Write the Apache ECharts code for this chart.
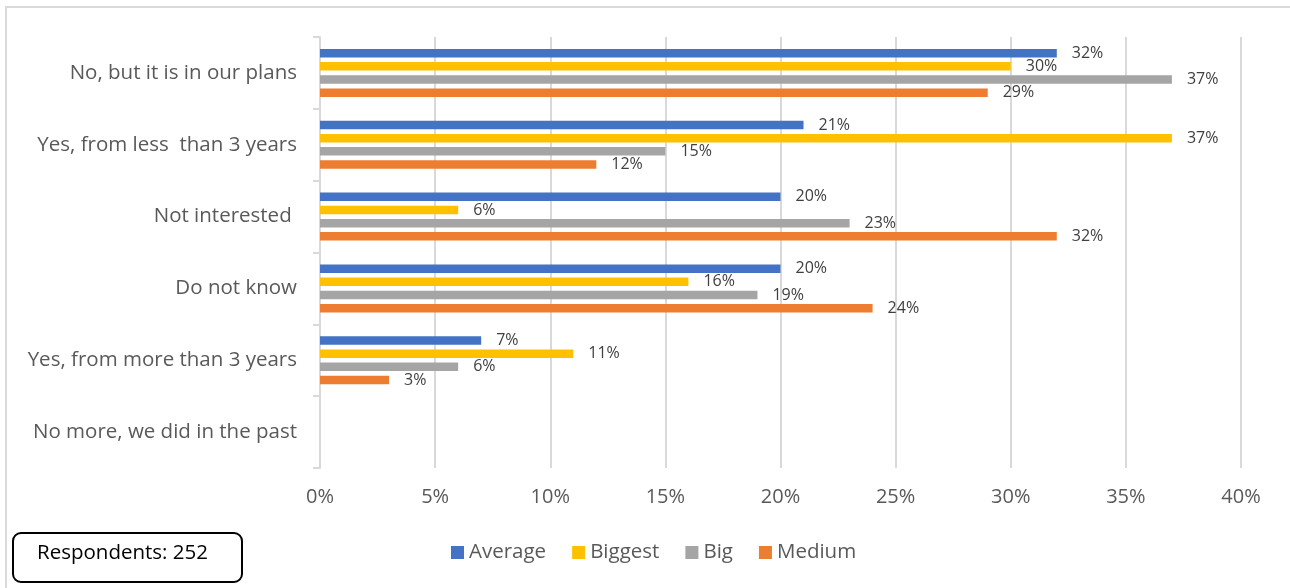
<!DOCTYPE html>
<html>
<head>
<meta charset="UTF-8">
<title>Respondents chart</title>
<script src="https://cdn.jsdelivr.net/npm/echarts@6/dist/echarts.min.js"></script>
<style>
  html, body { margin: 0; padding: 0; background: #fff; }
  #container { width: 1290px; height: 588px; }
</style>
</head>
<body>
<div id="container"></div>
<script>
// categories, top to bottom
var categories = ['No, but it is in our plans', 'Yes, from less  than 3 years', 'Not interested ', 'Do not know', 'Yes, from more than 3 years', 'No more, we did in the past'];
var seriesNames = ['Average', 'Biggest', 'Big', 'Medium'];
var average = [32, 21, 20, 20, 7, null];
var biggest = [30, 37, 6, 16, 11, null];
var big = [37, 15, 23, 19, 6, null];
var medium = [29, 12, 32, 24, 3, null];
var xTicks = [0, 5, 10, 15, 20, 25, 30, 35, 40];
var colors = ['#4472C4', '#FFC000', '#A5A5A5', '#ED7D31'];

var font = '"Open Sans", "Noto Sans", sans-serif';
var dom = document.getElementById('container');
var myChart = echarts.init(dom);

function makeSeries(name, data, i) {
    return {
        name: name,
        type: 'bar',
        data: data,
        barWidth: 8.5,
        barGap: '55%',
        itemStyle: { color: colors[i] },
        label: {
            show: true,
            position: 'right',
            distance: 15,
            formatter: function (p) { return p.value == null ? '' : p.value + '%'; },
            color: '#404040',
            fontSize: 16,
            fontFamily: font
        },
        emphasis: { disabled: true }
    };
}

var option = {
    animation: false,
    color: colors,
    textStyle: { fontFamily: font },
    grid: { left: 320, top: 37, width: 921, height: 431, containLabel: false },
    xAxis: {
        type: 'value',
        min: xTicks[0],
        max: xTicks[xTicks.length - 1],
        interval: 5,
        axisLine: { show: false },
        axisTick: { show: false },
        splitLine: { show: true, lineStyle: { color: '#d9d9d9', width: 2 } },
        axisLabel: {
            formatter: '{value}%',
            color: '#595959',
            fontSize: 20,
            margin: 19,
            fontFamily: font
        }
    },
    yAxis: {
        type: 'category',
        data: categories,
        inverse: true,
        axisLine: { show: true, lineStyle: { color: '#d9d9d9', width: 2 } },
        axisTick: { show: true, length: 7, lineStyle: { color: '#d9d9d9', width: 2 } },
        axisLabel: { color: '#595959', fontSize: 20.5, margin: 23, fontFamily: font }
    },
    legend: {
        data: seriesNames,
        left: 451,
        top: 542,
        padding: 0,
        icon: 'rect',
        itemWidth: 13,
        itemHeight: 13,
        itemGap: 26,
        textStyle: { color: '#595959', fontSize: 20.5, fontFamily: font, padding: [0, 0, 0, 0] }
    },
    series: [
        makeSeries(seriesNames[0], average, 0),
        makeSeries(seriesNames[1], biggest, 1),
        makeSeries(seriesNames[2], big, 2),
        makeSeries(seriesNames[3], medium, 3)
    ],
    graphic: [
        {
            type: 'rect',
            shape: { x: 6, y: 7, width: 1400, height: 700 },
            style: { fill: null, stroke: '#d9d9d9', lineWidth: 2 },
            silent: true
        },
        {
            type: 'rect',
            shape: { x: 13, y: 533, width: 229, height: 49, r: 8 },
            style: { fill: '#fff', stroke: '#000', lineWidth: 2 }
        },
        {
            type: 'text',
            left: 37,
            top: 543,
            style: { text: 'Respondents: 252', fill: '#000', fontSize: 20.5, fontFamily: font }
        }
    ]
};

myChart.setOption(option);
</script>
</body>
</html>
